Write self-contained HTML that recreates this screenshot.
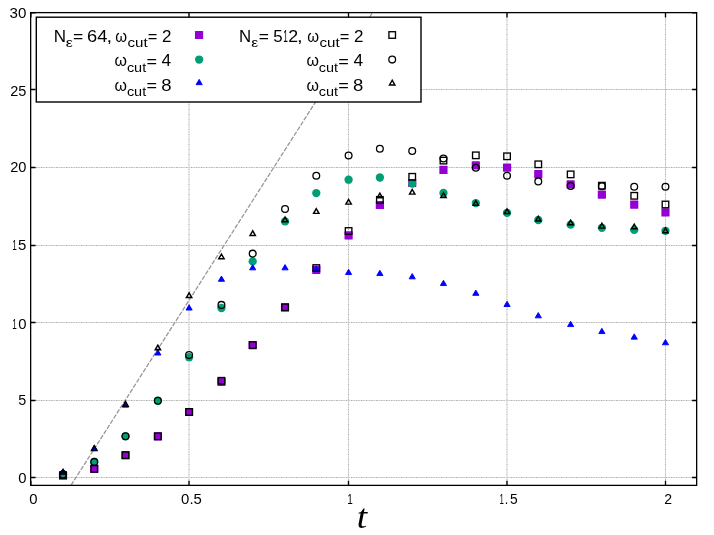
<!DOCTYPE html><html><head><meta charset="utf-8"><title>plot</title><style>html,body{margin:0;padding:0;background:#fff}svg{display:block}text{font-family:"Liberation Sans",sans-serif;fill:#000}</style></head><body>
<svg width="714" height="535" viewBox="0 0 714 535">
<rect width="714" height="535" fill="#fff"/>
<g fill="none" stroke-width="1">
<path d="M30.85 477.5H696.75" stroke="#f1f1f1"/><path d="M30.85 477.5H696.75" stroke="#adadad" stroke-dasharray="1.6 3.4"/><path d="M30.85 477.5H696.75" stroke="#c6c6c6" stroke-dasharray="1.6 3.4" stroke-dashoffset="-2.5"/>
<path d="M30.85 400.5H696.75" stroke="#f1f1f1"/><path d="M30.85 400.5H696.75" stroke="#adadad" stroke-dasharray="1.6 3.4"/><path d="M30.85 400.5H696.75" stroke="#c6c6c6" stroke-dasharray="1.6 3.4" stroke-dashoffset="-2.5"/>
<path d="M30.85 322.5H696.75" stroke="#f1f1f1"/><path d="M30.85 322.5H696.75" stroke="#adadad" stroke-dasharray="1.6 3.4"/><path d="M30.85 322.5H696.75" stroke="#c6c6c6" stroke-dasharray="1.6 3.4" stroke-dashoffset="-2.5"/>
<path d="M30.85 245.5H696.75" stroke="#f1f1f1"/><path d="M30.85 245.5H696.75" stroke="#adadad" stroke-dasharray="1.6 3.4"/><path d="M30.85 245.5H696.75" stroke="#c6c6c6" stroke-dasharray="1.6 3.4" stroke-dashoffset="-2.5"/>
<path d="M30.85 167.5H696.75" stroke="#f1f1f1"/><path d="M30.85 167.5H696.75" stroke="#adadad" stroke-dasharray="1.6 3.4"/><path d="M30.85 167.5H696.75" stroke="#c6c6c6" stroke-dasharray="1.6 3.4" stroke-dashoffset="-2.5"/>
<path d="M30.85 89.5H696.75" stroke="#f1f1f1"/><path d="M30.85 89.5H696.75" stroke="#adadad" stroke-dasharray="1.6 3.4"/><path d="M30.85 89.5H696.75" stroke="#c6c6c6" stroke-dasharray="1.6 3.4" stroke-dashoffset="-2.5"/>
<path d="M189.0 485.35V12.85" stroke="#f1f1f1"/><path d="M189.0 485.35V12.85" stroke="#adadad" stroke-dasharray="1.6 3.4"/><path d="M189.0 485.35V12.85" stroke="#c6c6c6" stroke-dasharray="1.6 3.4" stroke-dashoffset="-2.5"/>
<path d="M348.5 485.35V12.85" stroke="#f1f1f1"/><path d="M348.5 485.35V12.85" stroke="#adadad" stroke-dasharray="1.6 3.4"/><path d="M348.5 485.35V12.85" stroke="#c6c6c6" stroke-dasharray="1.6 3.4" stroke-dashoffset="-2.5"/>
<path d="M507.0 485.35V12.85" stroke="#f1f1f1"/><path d="M507.0 485.35V12.85" stroke="#adadad" stroke-dasharray="1.6 3.4"/><path d="M507.0 485.35V12.85" stroke="#c6c6c6" stroke-dasharray="1.6 3.4" stroke-dashoffset="-2.5"/>
<path d="M665.5 485.35V12.85" stroke="#f1f1f1"/><path d="M665.5 485.35V12.85" stroke="#adadad" stroke-dasharray="1.6 3.4"/><path d="M665.5 485.35V12.85" stroke="#c6c6c6" stroke-dasharray="1.6 3.4" stroke-dashoffset="-2.5"/>
</g>
<path d="M71.0 485.35L372.4 12.85" stroke="#989898" stroke-width="1.3" stroke-dasharray="4.6 1.5" fill="none"/>
<g stroke="#000" stroke-width="1.35" fill="none">
<path d="M30.85 477.5h4.7M696.75 477.5h-4.7"/>
<path d="M30.85 400.5h4.7M696.75 400.5h-4.7"/>
<path d="M30.85 322.5h4.7M696.75 322.5h-4.7"/>
<path d="M30.85 245.5h4.7M696.75 245.5h-4.7"/>
<path d="M30.85 167.5h4.7M696.75 167.5h-4.7"/>
<path d="M30.85 89.5h4.7M696.75 89.5h-4.7"/>
<path d="M30.85 12.85h4.7M696.75 12.85h-4.7"/>
<path d="M30.85 485.35v-4.7M30.85 12.85v4.7"/>
<path d="M189.0 485.35v-4.7M189.0 12.85v4.7"/>
<path d="M348.5 485.35v-4.7M348.5 12.85v4.7"/>
<path d="M507.0 485.35v-4.7M507.0 12.85v4.7"/>
<path d="M665.5 485.35v-4.7M665.5 12.85v4.7"/>
</g>
<rect x="58.93" y="471.30" width="8.2" height="8.2" rx="0.6" fill="#9400d3"/>
<rect x="90.17" y="464.70" width="8.2" height="8.2" rx="0.6" fill="#9400d3"/>
<rect x="121.41" y="451.10" width="8.2" height="8.2" rx="0.6" fill="#9400d3"/>
<rect x="153.76" y="432.20" width="8.2" height="8.2" rx="0.6" fill="#9400d3"/>
<rect x="185.00" y="407.90" width="8.2" height="8.2" rx="0.6" fill="#9400d3"/>
<rect x="217.35" y="377.70" width="8.2" height="8.2" rx="0.6" fill="#9400d3"/>
<rect x="248.59" y="341.00" width="8.2" height="8.2" rx="0.6" fill="#9400d3"/>
<rect x="280.94" y="303.20" width="8.2" height="8.2" rx="0.6" fill="#9400d3"/>
<rect x="312.18" y="265.70" width="8.2" height="8.2" rx="0.6" fill="#9400d3"/>
<rect x="344.50" y="231.30" width="8.2" height="8.2" rx="0.6" fill="#9400d3"/>
<rect x="375.77" y="200.90" width="8.2" height="8.2" rx="0.6" fill="#9400d3"/>
<rect x="408.12" y="178.90" width="8.2" height="8.2" rx="0.6" fill="#9400d3"/>
<rect x="439.36" y="165.80" width="8.2" height="8.2" rx="0.6" fill="#9400d3"/>
<rect x="471.71" y="161.30" width="8.2" height="8.2" rx="0.6" fill="#9400d3"/>
<rect x="502.95" y="163.50" width="8.2" height="8.2" rx="0.6" fill="#9400d3"/>
<rect x="534.19" y="170.10" width="8.2" height="8.2" rx="0.6" fill="#9400d3"/>
<rect x="566.54" y="180.30" width="8.2" height="8.2" rx="0.6" fill="#9400d3"/>
<rect x="597.78" y="190.50" width="8.2" height="8.2" rx="0.6" fill="#9400d3"/>
<rect x="630.13" y="200.60" width="8.2" height="8.2" rx="0.6" fill="#9400d3"/>
<rect x="661.37" y="208.30" width="8.2" height="8.2" rx="0.6" fill="#9400d3"/>
<circle cx="63.03" cy="474.40" r="4.15" fill="#009e73"/>
<circle cx="94.27" cy="461.90" r="4.15" fill="#009e73"/>
<circle cx="125.51" cy="436.30" r="4.15" fill="#009e73"/>
<circle cx="157.86" cy="400.70" r="4.15" fill="#009e73"/>
<circle cx="189.10" cy="357.20" r="4.15" fill="#009e73"/>
<circle cx="221.45" cy="308.00" r="4.15" fill="#009e73"/>
<circle cx="252.69" cy="261.40" r="4.15" fill="#009e73"/>
<circle cx="285.04" cy="221.40" r="4.15" fill="#009e73"/>
<circle cx="316.28" cy="193.10" r="4.15" fill="#009e73"/>
<circle cx="348.60" cy="179.70" r="4.15" fill="#009e73"/>
<circle cx="379.87" cy="177.50" r="4.15" fill="#009e73"/>
<circle cx="412.22" cy="183.60" r="4.15" fill="#009e73"/>
<circle cx="443.46" cy="192.95" r="4.15" fill="#009e73"/>
<circle cx="475.81" cy="203.10" r="4.15" fill="#009e73"/>
<circle cx="507.05" cy="212.80" r="4.15" fill="#009e73"/>
<circle cx="538.29" cy="220.00" r="4.15" fill="#009e73"/>
<circle cx="570.64" cy="224.65" r="4.15" fill="#009e73"/>
<circle cx="601.88" cy="227.80" r="4.15" fill="#009e73"/>
<circle cx="634.23" cy="229.90" r="4.15" fill="#009e73"/>
<circle cx="665.47" cy="230.80" r="4.15" fill="#009e73"/>
<path d="M63.03 468.95L59.93 474.25L66.13 474.25Z" fill="#0000ff" stroke="#0000ff" stroke-width="0.9" stroke-linejoin="round"/>
<path d="M94.27 445.25L91.17 450.55L97.37 450.55Z" fill="#0000ff" stroke="#0000ff" stroke-width="0.9" stroke-linejoin="round"/>
<path d="M125.51 401.85L122.41 407.15L128.61 407.15Z" fill="#0000ff" stroke="#0000ff" stroke-width="0.9" stroke-linejoin="round"/>
<path d="M157.86 349.75L154.76 355.05L160.96 355.05Z" fill="#0000ff" stroke="#0000ff" stroke-width="0.9" stroke-linejoin="round"/>
<path d="M189.10 304.75L186.00 310.05L192.20 310.05Z" fill="#0000ff" stroke="#0000ff" stroke-width="0.9" stroke-linejoin="round"/>
<path d="M221.45 276.00L218.35 281.30L224.55 281.30Z" fill="#0000ff" stroke="#0000ff" stroke-width="0.9" stroke-linejoin="round"/>
<path d="M252.69 264.55L249.59 269.85L255.79 269.85Z" fill="#0000ff" stroke="#0000ff" stroke-width="0.9" stroke-linejoin="round"/>
<path d="M285.04 264.55L281.94 269.85L288.14 269.85Z" fill="#0000ff" stroke="#0000ff" stroke-width="0.9" stroke-linejoin="round"/>
<path d="M316.28 265.85L313.18 271.15L319.38 271.15Z" fill="#0000ff" stroke="#0000ff" stroke-width="0.9" stroke-linejoin="round"/>
<path d="M348.60 269.25L345.50 274.55L351.70 274.55Z" fill="#0000ff" stroke="#0000ff" stroke-width="0.9" stroke-linejoin="round"/>
<path d="M379.87 270.25L376.77 275.55L382.97 275.55Z" fill="#0000ff" stroke="#0000ff" stroke-width="0.9" stroke-linejoin="round"/>
<path d="M412.22 273.55L409.12 278.85L415.32 278.85Z" fill="#0000ff" stroke="#0000ff" stroke-width="0.9" stroke-linejoin="round"/>
<path d="M443.46 280.25L440.36 285.55L446.56 285.55Z" fill="#0000ff" stroke="#0000ff" stroke-width="0.9" stroke-linejoin="round"/>
<path d="M475.81 290.05L472.71 295.35L478.91 295.35Z" fill="#0000ff" stroke="#0000ff" stroke-width="0.9" stroke-linejoin="round"/>
<path d="M507.05 301.20L503.95 306.50L510.15 306.50Z" fill="#0000ff" stroke="#0000ff" stroke-width="0.9" stroke-linejoin="round"/>
<path d="M538.29 312.55L535.19 317.85L541.39 317.85Z" fill="#0000ff" stroke="#0000ff" stroke-width="0.9" stroke-linejoin="round"/>
<path d="M570.64 321.25L567.54 326.55L573.74 326.55Z" fill="#0000ff" stroke="#0000ff" stroke-width="0.9" stroke-linejoin="round"/>
<path d="M601.88 328.25L598.78 333.55L604.98 333.55Z" fill="#0000ff" stroke="#0000ff" stroke-width="0.9" stroke-linejoin="round"/>
<path d="M634.23 333.85L631.13 339.15L637.33 339.15Z" fill="#0000ff" stroke="#0000ff" stroke-width="0.9" stroke-linejoin="round"/>
<path d="M665.47 339.45L662.37 344.75L668.57 344.75Z" fill="#0000ff" stroke="#0000ff" stroke-width="0.9" stroke-linejoin="round"/>
<rect x="59.76" y="472.12" width="6.55" height="6.55" fill="none" stroke="#000" stroke-width="1.35"/>
<rect x="90.99" y="465.53" width="6.55" height="6.55" fill="none" stroke="#000" stroke-width="1.35"/>
<rect x="122.23" y="451.93" width="6.55" height="6.55" fill="none" stroke="#000" stroke-width="1.35"/>
<rect x="154.59" y="433.03" width="6.55" height="6.55" fill="none" stroke="#000" stroke-width="1.35"/>
<rect x="185.82" y="408.73" width="6.55" height="6.55" fill="none" stroke="#000" stroke-width="1.35"/>
<rect x="218.17" y="377.53" width="6.55" height="6.55" fill="none" stroke="#000" stroke-width="1.35"/>
<rect x="249.41" y="341.83" width="6.55" height="6.55" fill="none" stroke="#000" stroke-width="1.35"/>
<rect x="281.77" y="304.03" width="6.55" height="6.55" fill="none" stroke="#000" stroke-width="1.35"/>
<rect x="313.00" y="264.78" width="6.55" height="6.55" fill="none" stroke="#000" stroke-width="1.35"/>
<rect x="345.33" y="227.72" width="6.55" height="6.55" fill="none" stroke="#000" stroke-width="1.35"/>
<rect x="376.60" y="196.62" width="6.55" height="6.55" fill="none" stroke="#000" stroke-width="1.35"/>
<rect x="408.95" y="173.53" width="6.55" height="6.55" fill="none" stroke="#000" stroke-width="1.35"/>
<rect x="440.19" y="157.32" width="6.55" height="6.55" fill="none" stroke="#000" stroke-width="1.35"/>
<rect x="472.54" y="152.07" width="6.55" height="6.55" fill="none" stroke="#000" stroke-width="1.35"/>
<rect x="503.78" y="153.03" width="6.55" height="6.55" fill="none" stroke="#000" stroke-width="1.35"/>
<rect x="535.01" y="161.03" width="6.55" height="6.55" fill="none" stroke="#000" stroke-width="1.35"/>
<rect x="567.37" y="171.12" width="6.55" height="6.55" fill="none" stroke="#000" stroke-width="1.35"/>
<rect x="598.61" y="182.42" width="6.55" height="6.55" fill="none" stroke="#000" stroke-width="1.35"/>
<rect x="630.96" y="192.53" width="6.55" height="6.55" fill="none" stroke="#000" stroke-width="1.35"/>
<rect x="662.20" y="201.22" width="6.55" height="6.55" fill="none" stroke="#000" stroke-width="1.35"/>
<circle cx="63.03" cy="474.40" r="3.38" fill="none" stroke="#000" stroke-width="1.3"/>
<circle cx="94.27" cy="461.90" r="3.38" fill="none" stroke="#000" stroke-width="1.3"/>
<circle cx="125.51" cy="436.30" r="3.38" fill="none" stroke="#000" stroke-width="1.3"/>
<circle cx="157.86" cy="400.70" r="3.38" fill="none" stroke="#000" stroke-width="1.3"/>
<circle cx="189.10" cy="355.10" r="3.38" fill="none" stroke="#000" stroke-width="1.3"/>
<circle cx="221.45" cy="304.90" r="3.38" fill="none" stroke="#000" stroke-width="1.3"/>
<circle cx="252.69" cy="253.65" r="3.38" fill="none" stroke="#000" stroke-width="1.3"/>
<circle cx="285.04" cy="209.05" r="3.38" fill="none" stroke="#000" stroke-width="1.3"/>
<circle cx="316.28" cy="175.70" r="3.38" fill="none" stroke="#000" stroke-width="1.3"/>
<circle cx="348.60" cy="155.50" r="3.38" fill="none" stroke="#000" stroke-width="1.3"/>
<circle cx="379.87" cy="148.75" r="3.38" fill="none" stroke="#000" stroke-width="1.3"/>
<circle cx="412.22" cy="151.00" r="3.38" fill="none" stroke="#000" stroke-width="1.3"/>
<circle cx="443.46" cy="158.45" r="3.38" fill="none" stroke="#000" stroke-width="1.3"/>
<circle cx="475.81" cy="167.70" r="3.38" fill="none" stroke="#000" stroke-width="1.3"/>
<circle cx="507.05" cy="175.70" r="3.38" fill="none" stroke="#000" stroke-width="1.3"/>
<circle cx="538.29" cy="181.40" r="3.38" fill="none" stroke="#000" stroke-width="1.3"/>
<circle cx="570.64" cy="186.00" r="3.38" fill="none" stroke="#000" stroke-width="1.3"/>
<circle cx="601.88" cy="186.30" r="3.38" fill="none" stroke="#000" stroke-width="1.3"/>
<circle cx="634.23" cy="186.70" r="3.38" fill="none" stroke="#000" stroke-width="1.3"/>
<circle cx="665.47" cy="186.70" r="3.38" fill="none" stroke="#000" stroke-width="1.3"/>
<path d="M63.03 469.43L60.36 474.10L65.70 474.10Z" fill="none" stroke="#000" stroke-width="1.45" stroke-linejoin="miter"/>
<path d="M94.27 445.73L91.59 450.40L96.94 450.40Z" fill="none" stroke="#000" stroke-width="1.45" stroke-linejoin="miter"/>
<path d="M125.51 401.53L122.84 406.20L128.19 406.20Z" fill="none" stroke="#000" stroke-width="1.45" stroke-linejoin="miter"/>
<path d="M157.86 345.13L155.19 349.81L160.54 349.81Z" fill="none" stroke="#000" stroke-width="1.45" stroke-linejoin="miter"/>
<path d="M189.10 292.83L186.42 297.50L191.78 297.50Z" fill="none" stroke="#000" stroke-width="1.45" stroke-linejoin="miter"/>
<path d="M221.45 254.09L218.77 258.75L224.12 258.75Z" fill="none" stroke="#000" stroke-width="1.45" stroke-linejoin="miter"/>
<path d="M252.69 230.79L250.01 235.46L255.37 235.46Z" fill="none" stroke="#000" stroke-width="1.45" stroke-linejoin="miter"/>
<path d="M285.04 217.04L282.37 221.71L287.72 221.71Z" fill="none" stroke="#000" stroke-width="1.45" stroke-linejoin="miter"/>
<path d="M316.28 208.69L313.60 213.36L318.95 213.36Z" fill="none" stroke="#000" stroke-width="1.45" stroke-linejoin="miter"/>
<path d="M348.60 199.44L345.93 204.11L351.28 204.11Z" fill="none" stroke="#000" stroke-width="1.45" stroke-linejoin="miter"/>
<path d="M379.87 193.14L377.19 197.81L382.55 197.81Z" fill="none" stroke="#000" stroke-width="1.45" stroke-linejoin="miter"/>
<path d="M412.22 189.44L409.55 194.11L414.90 194.11Z" fill="none" stroke="#000" stroke-width="1.45" stroke-linejoin="miter"/>
<path d="M443.46 192.74L440.78 197.41L446.13 197.41Z" fill="none" stroke="#000" stroke-width="1.45" stroke-linejoin="miter"/>
<path d="M475.81 200.64L473.13 205.31L478.49 205.31Z" fill="none" stroke="#000" stroke-width="1.45" stroke-linejoin="miter"/>
<path d="M507.05 208.84L504.38 213.51L509.73 213.51Z" fill="none" stroke="#000" stroke-width="1.45" stroke-linejoin="miter"/>
<path d="M538.29 216.39L535.62 221.06L540.96 221.06Z" fill="none" stroke="#000" stroke-width="1.45" stroke-linejoin="miter"/>
<path d="M570.64 220.09L567.97 224.76L573.31 224.76Z" fill="none" stroke="#000" stroke-width="1.45" stroke-linejoin="miter"/>
<path d="M601.88 223.24L599.21 227.91L604.55 227.91Z" fill="none" stroke="#000" stroke-width="1.45" stroke-linejoin="miter"/>
<path d="M634.23 224.09L631.56 228.76L636.90 228.76Z" fill="none" stroke="#000" stroke-width="1.45" stroke-linejoin="miter"/>
<path d="M665.47 227.99L662.80 232.66L668.14 232.66Z" fill="none" stroke="#000" stroke-width="1.45" stroke-linejoin="miter"/>
<rect x="36.3" y="17.2" width="384.7" height="84.8" fill="#fff" stroke="#000" stroke-width="1.4"/>
<rect x="30.65" y="12.62" width="666.0" height="472.75" fill="none" stroke="#000" stroke-width="1.3"/>
<g style="opacity:0.999">
<text transform="translate(18.17 482.82) scale(1.0387 1)" font-size="14.3">0</text>
<text transform="translate(18.27 405.06) scale(1.0103 1)" font-size="14.3">5</text>
<text transform="translate(12.22 328.74) scale(0.5758 1)" font-size="14.3">1</text>
<text transform="translate(18.17 328.74) scale(1.0387 1)" font-size="14.3">0</text>
<text transform="translate(12.22 250.00) scale(0.5758 1)" font-size="14.3">1</text>
<text transform="translate(18.00 250.00) scale(1.0472 1)" font-size="14.3">5</text>
<text transform="translate(10.16 172.06) scale(1.0220 1)" font-size="14.3">20</text>
<text transform="translate(10.17 95.80) scale(1.0147 1)" font-size="14.3">25</text>
<text transform="translate(9.62 17.72) scale(1.0572 1)" font-size="14.3">30</text>
<text transform="translate(29.17 503.72) scale(1.0387 1)" font-size="14.3">0</text>
<text transform="translate(181.12 503.72) scale(1.0417 1)" font-size="14.3">0.5</text>
<text transform="translate(347.14 503.72) scale(0.6974 1)" font-size="14.3">1</text>
<text transform="translate(499.40 503.72) scale(0.5515 1)" font-size="14.3">1</text>
<text transform="translate(504.85 503.72) scale(0.8813 1)" font-size="14.3">.</text>
<text transform="translate(510.05 503.72) scale(0.9661 1)" font-size="14.3">5</text>
<text transform="translate(664.24 503.72) scale(0.9824 1)" font-size="14.3">2</text>
<text transform="translate(356.76 527.70) scale(1.0940 1)" font-size="34.2" style="font-family:'Liberation Serif',serif;font-style:italic">t</text>
<text transform="translate(53.70 41.50) scale(1.0832 1)" font-size="15.7">N</text>
<text transform="translate(65.86 46.80) scale(1.2634 1)" font-size="12.5">ε</text>
<text transform="translate(73.05 42.00) scale(1.1144 1)" font-size="15.7">=</text>
<text transform="translate(86.97 41.50) scale(1.1662 1)" font-size="15.7">64</text>
<text transform="translate(106.47 41.50) scale(1.2980 1)" font-size="15.7">,</text>
<text transform="translate(115.34 41.50) scale(0.9610 1.08)" font-size="15.7">ω</text>
<text transform="translate(127.56 46.80) scale(1.2086 1)" font-size="12.5">cut</text>
<text transform="translate(147.80 42.00) scale(1.0488 1)" font-size="15.7">=</text>
<text transform="translate(162.09 41.50) scale(1.0836 1)" font-size="15.7">2</text>
<text transform="translate(114.50 66.35) scale(1.0157 1.08)" font-size="15.7">ω</text>
<text transform="translate(126.88 71.65) scale(1.1587 1)" font-size="12.5">cut</text>
<text transform="translate(146.42 66.85) scale(1.1537 1)" font-size="15.7">=</text>
<text transform="translate(161.60 66.35) scale(1.0997 1)" font-size="15.7">4</text>
<text transform="translate(114.50 90.60) scale(1.0157 1.08)" font-size="15.7">ω</text>
<text transform="translate(126.88 95.90) scale(1.1587 1)" font-size="12.5">cut</text>
<text transform="translate(146.42 91.10) scale(1.1537 1)" font-size="15.7">=</text>
<text transform="translate(161.19 90.60) scale(1.1809 1)" font-size="15.7">8</text>
<text transform="translate(239.12 41.50) scale(1.0718 1)" font-size="15.7">N</text>
<text transform="translate(251.36 46.80) scale(1.2634 1)" font-size="12.5">ε</text>
<text transform="translate(258.65 42.00) scale(1.1144 1)" font-size="15.7">=</text>
<text transform="translate(273.32 41.50) scale(1.0747 1)" font-size="15.7">5</text>
<text transform="translate(283.36 41.50) scale(0.5318 1)" font-size="15.7">1</text>
<text transform="translate(288.31 41.50) scale(1.1325 1)" font-size="15.7">2</text>
<text transform="translate(297.07 41.50) scale(1.2980 1)" font-size="15.7">,</text>
<text transform="translate(307.24 41.50) scale(0.9610 1.08)" font-size="15.7">ω</text>
<text transform="translate(319.46 46.80) scale(1.2086 1)" font-size="12.5">cut</text>
<text transform="translate(339.70 42.00) scale(1.0488 1)" font-size="15.7">=</text>
<text transform="translate(353.99 41.50) scale(1.0836 1)" font-size="15.7">2</text>
<text transform="translate(306.40 66.35) scale(1.0157 1.08)" font-size="15.7">ω</text>
<text transform="translate(318.78 71.65) scale(1.1587 1)" font-size="12.5">cut</text>
<text transform="translate(338.32 66.85) scale(1.1537 1)" font-size="15.7">=</text>
<text transform="translate(353.50 66.35) scale(1.0997 1)" font-size="15.7">4</text>
<text transform="translate(306.40 90.60) scale(1.0157 1.08)" font-size="15.7">ω</text>
<text transform="translate(318.78 95.90) scale(1.1587 1)" font-size="12.5">cut</text>
<text transform="translate(338.32 91.10) scale(1.1537 1)" font-size="15.7">=</text>
<text transform="translate(353.09 90.60) scale(1.1809 1)" font-size="15.7">8</text>
</g>
<rect x="194.95" y="30.90" width="8.2" height="8.2" rx="0.6" fill="#9400d3"/>
<circle cx="199.15" cy="59.55" r="4.15" fill="#009e73"/>
<path d="M199.15 79.35L196.05 84.65L202.25 84.65Z" fill="#0000ff" stroke="#0000ff" stroke-width="0.9" stroke-linejoin="round"/>
<rect x="388.93" y="31.73" width="6.55" height="6.55" fill="none" stroke="#000" stroke-width="1.35"/>
<circle cx="392.20" cy="59.60" r="3.38" fill="none" stroke="#000" stroke-width="1.3"/>
<path d="M392.20 80.24L389.52 84.91L394.88 84.91Z" fill="none" stroke="#000" stroke-width="1.45" stroke-linejoin="miter"/>
</svg></body></html>
